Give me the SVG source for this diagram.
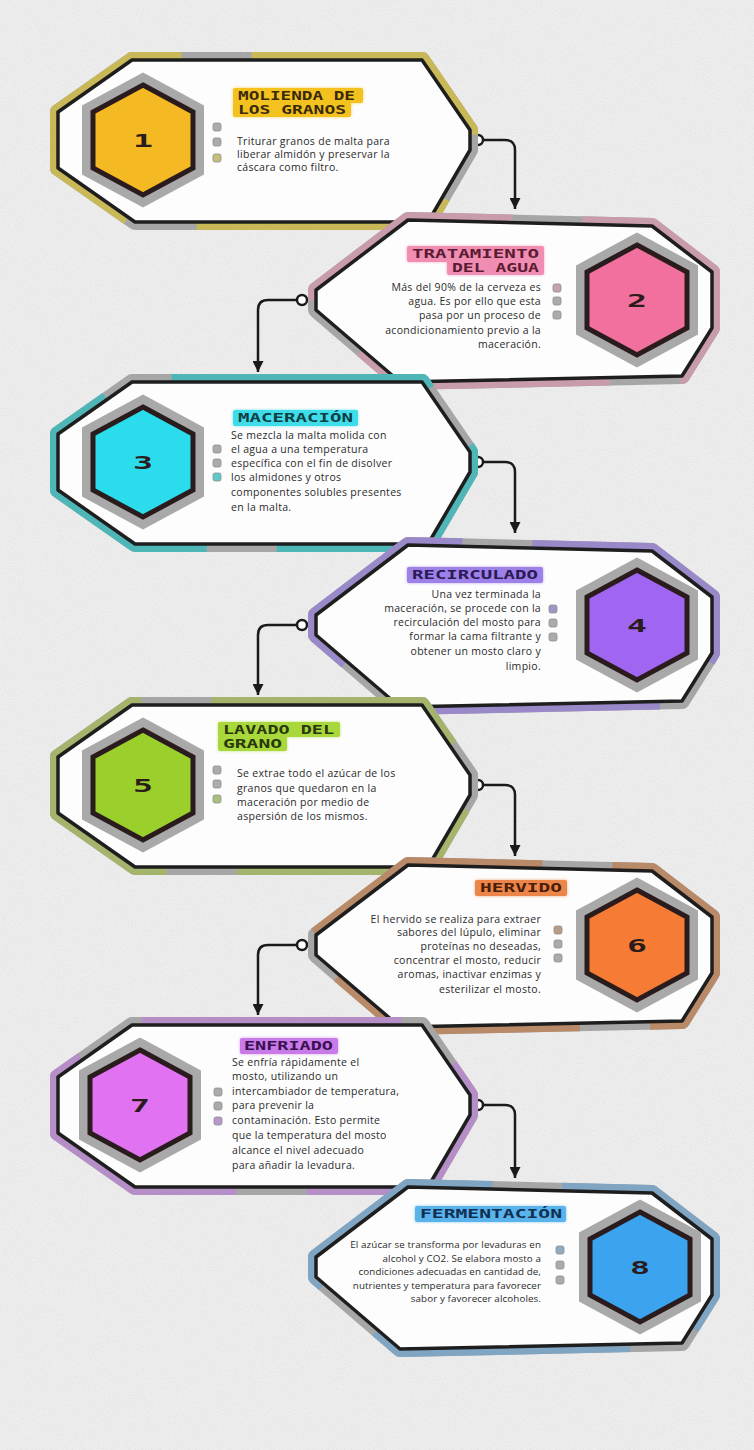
<svg xmlns="http://www.w3.org/2000/svg" xmlns:xlink="http://www.w3.org/1999/xlink" width="754" height="1450" viewBox="0 0 754 1450">
<defs>
<filter id="noise" x="0" y="0" width="100%" height="100%">
<feTurbulence type="fractalNoise" baseFrequency="0.85" numOctaves="2" seed="7"/>
<feColorMatrix type="matrix" values="0 0 0 0 0.55  0 0 0 0 0.55  0 0 0 0 0.55  0.5 0 0 0 -0.18"/>
</filter>
<filter id="glow" x="-20%" y="-50%" width="140%" height="200%">
<feGaussianBlur stdDeviation="1.6"/>
</filter>
<polygon id="hx" points="0,-55 50,-28 50,28 0,55 -50,28 -50,-28"/>
<marker id="arr" viewBox="0 0 10 10" refX="5" refY="10" markerWidth="11" markerHeight="11" markerUnits="userSpaceOnUse" orient="0">
<path d="M0,0 L10,0 L5,10 Z" fill="#1A1A1A"/>
</marker>
</defs>
<style>
.band{fill:none;stroke:#A6A6A6;stroke-width:16;stroke-linejoin:round}
.bandc{fill:none;stroke-width:16;stroke-linejoin:round;stroke-dasharray:260 70}
.cfill{fill:#FDFDFD;stroke:none}
.cline{fill:none;stroke:#1E1E1E;stroke-width:3.5;stroke-linejoin:round}
.ring{fill:#A9A9A9;stroke:#A9A9A9;stroke-width:22;stroke-linejoin:miter}
.hex{stroke:#2A1C1C;stroke-width:5;stroke-linejoin:miter}
.num{font-family:"DejaVu Sans Mono",monospace;font-weight:bold;font-size:18px;fill:#2A1C1C;text-anchor:middle}
.lbl{font-family:"DejaVu Sans Mono",monospace;font-weight:bold;font-size:11.5px}
.body{font-family:"Open Sans","Liberation Sans",sans-serif;font-size:10.5px;letter-spacing:0.3px;fill:#2B2B2B}
.sm{font-size:9.8px;letter-spacing:0.1px}
.r{text-anchor:end}
.bul{stroke:#8E8E8E;stroke-width:0.8}
.conn{fill:none;stroke:#1A1A1A;stroke-width:2.5}
.dot{fill:#FFFFFF;stroke:#1A1A1A;stroke-width:2.5}
</style>
<rect x="0" y="0" width="754" height="1450" fill="#EEEEEE"/>
<rect x="0" y="0" width="754" height="1450" filter="url(#noise)"/>

<g id="connectors">
<circle class="dot" cx="478" cy="140" r="5"/>
<path class="conn" d="M483,140 H505 Q515,140 515,150 V209" marker-end="url(#arr)"/>
<circle class="dot" cx="302" cy="300" r="5"/>
<path class="conn" d="M297,300 H268 Q258,300 258,310 V372" marker-end="url(#arr)"/>
<circle class="dot" cx="478" cy="462" r="5"/>
<path class="conn" d="M483,462 H505 Q515,462 515,472 V533" marker-end="url(#arr)"/>
<circle class="dot" cx="302" cy="625" r="5"/>
<path class="conn" d="M297,625 H268 Q258,625 258,635 V695" marker-end="url(#arr)"/>
<circle class="dot" cx="478" cy="785" r="5"/>
<path class="conn" d="M483,785 H505 Q515,785 515,795 V856" marker-end="url(#arr)"/>
<circle class="dot" cx="302" cy="945" r="5"/>
<path class="conn" d="M297,945 H268 Q258,945 258,955 V1015" marker-end="url(#arr)"/>
<circle class="dot" cx="478" cy="1105" r="5"/>
<path class="conn" d="M483,1105 H505 Q515,1105 515,1115 V1178" marker-end="url(#arr)"/>
</g>

<g id="step1">
<polygon class="band" points="58,112 132,60 422,60 470,130 470,150 428,222 135,222 58,168"/>
<polygon class="bandc" stroke="#C9B858" stroke-dashoffset="120" points="58,112 132,60 422,60 470,130 470,150 428,222 135,222 58,168"/>
<polygon class="cfill" points="58,112 132,60 422,60 470,130 470,150 428,222 135,222 58,168"/>
<polygon class="cline" points="58,112 132,60 422,60 470,130 470,150 428,222 135,222 58,168"/>
<use href="#hx" x="143" y="140" class="ring"/>
<use href="#hx" x="143" y="140" class="hex" fill="#F5B923"/>
<text class="num" x="143" y="147" textLength="20" lengthAdjust="spacingAndGlyphs">1</text>
<rect x="233" y="88" width="130" height="15" rx="2" fill="#F3C21F" filter="url(#glow)" opacity="0.7"/>
<rect x="233" y="102" width="118" height="15" rx="2" fill="#F3C21F" filter="url(#glow)" opacity="0.7"/>
<rect x="233" y="88" width="130" height="15" rx="2" fill="#F3C21F"/>
<rect x="233" y="102" width="118" height="15" rx="2" fill="#F3C21F"/>
<text class="lbl" x="238" y="100" fill="#3B2A0A" textLength="117" lengthAdjust="spacingAndGlyphs">MOLIENDA DE</text>
<text class="lbl" x="238" y="114" fill="#3B2A0A" textLength="108" lengthAdjust="spacingAndGlyphs">LOS GRANOS</text>
<rect class="bul" x="213" y="123" width="8" height="8" rx="2" fill="#ABABAB"/>
<rect class="bul" x="213" y="138" width="8" height="8" rx="2" fill="#ABABAB"/>
<rect class="bul" x="213" y="154" width="8" height="8" rx="2" fill="#C8BE7C"/>
<text class="body" x="237" y="145">Triturar granos de malta para</text>
<text class="body" x="237" y="158">liberar almidón y preservar la</text>
<text class="body" x="237" y="171">cáscara como filtro.</text>
</g>

<g id="step2">
<polygon class="band" points="316,290 408,220 652,226 712,272 712,328 682,376 400,382 316,310"/>
<polygon class="bandc" stroke="#C99CAB" stroke-dashoffset="40" points="316,290 408,220 652,226 712,272 712,328 682,376 400,382 316,310"/>
<polygon class="cfill" points="316,290 408,220 652,226 712,272 712,328 682,376 400,382 316,310"/>
<polygon class="cline" points="316,290 408,220 652,226 712,272 712,328 682,376 400,382 316,310"/>
<use href="#hx" x="637" y="300" class="ring"/>
<use href="#hx" x="637" y="300" class="hex" fill="#F2709E"/>
<text class="num" x="637" y="307" textLength="20" lengthAdjust="spacingAndGlyphs">2</text>
<rect x="407" y="246" width="137" height="16" rx="2" fill="#F18DB2" filter="url(#glow)" opacity="0.7"/>
<rect x="447" y="260" width="97" height="15" rx="2" fill="#F18DB2" filter="url(#glow)" opacity="0.7"/>
<rect x="407" y="246" width="137" height="16" rx="2" fill="#F18DB2"/>
<rect x="447" y="260" width="97" height="15" rx="2" fill="#F18DB2"/>
<text class="lbl" x="412" y="258" fill="#5A1C32" textLength="127" lengthAdjust="spacingAndGlyphs">TRATAMIENTO</text>
<text class="lbl" x="452" y="272" fill="#5A1C32" textLength="87" lengthAdjust="spacingAndGlyphs">DEL AGUA</text>
<rect class="bul" x="553" y="284" width="8" height="8" rx="2" fill="#C9A0AE"/>
<rect class="bul" x="553" y="297" width="8" height="8" rx="2" fill="#ABABAB"/>
<rect class="bul" x="553" y="311" width="8" height="8" rx="2" fill="#ABABAB"/>
<text class="body r" x="541" y="291">Más del 90% de la cerveza es</text>
<text class="body r" x="541" y="305">agua. Es por ello que esta</text>
<text class="body r" x="541" y="319">pasa por un proceso de</text>
<text class="body r" x="541" y="334">acondicionamiento previo a la</text>
<text class="body r" x="541" y="348">maceración.</text>
</g>

<g id="step3">
<polygon class="band" points="58,434 132,382 422,382 470,452 470,472 428,544 135,544 58,490"/>
<polygon class="bandc" stroke="#4FB6B8" stroke-dashoffset="200" points="58,434 132,382 422,382 470,452 470,472 428,544 135,544 58,490"/>
<polygon class="cfill" points="58,434 132,382 422,382 470,452 470,472 428,544 135,544 58,490"/>
<polygon class="cline" points="58,434 132,382 422,382 470,452 470,472 428,544 135,544 58,490"/>
<use href="#hx" x="143" y="462" class="ring"/>
<use href="#hx" x="143" y="462" class="hex" fill="#2BDDEC"/>
<text class="num" x="143" y="469" textLength="20" lengthAdjust="spacingAndGlyphs">3</text>
<rect x="233" y="410" width="125" height="16" rx="2" fill="#3FDDE9" filter="url(#glow)" opacity="0.7"/>
<rect x="233" y="410" width="125" height="16" rx="2" fill="#3FDDE9"/>
<text class="lbl" x="238" y="422" fill="#0F3E45" textLength="115" lengthAdjust="spacingAndGlyphs">MACERACIÓN</text>
<rect class="bul" x="213" y="445" width="8" height="8" rx="2" fill="#ABABAB"/>
<rect class="bul" x="213" y="459" width="8" height="8" rx="2" fill="#ABABAB"/>
<rect class="bul" x="213" y="473" width="8" height="8" rx="2" fill="#5EC9CA"/>
<text class="body" x="231" y="439">Se mezcla la malta molida con</text>
<text class="body" x="231" y="453">el agua a una temperatura</text>
<text class="body" x="231" y="467">específica con el fin de disolver</text>
<text class="body" x="231" y="481">los almidones y otros</text>
<text class="body" x="231" y="496">componentes solubles presentes</text>
<text class="body" x="231" y="511">en la malta.</text>
</g>

<g id="step4">
<polygon class="band" points="316,615 408,545 652,551 712,597 712,653 682,701 400,707 316,635"/>
<polygon class="bandc" stroke="#9A89C8" stroke-dashoffset="90" points="316,615 408,545 652,551 712,597 712,653 682,701 400,707 316,635"/>
<polygon class="cfill" points="316,615 408,545 652,551 712,597 712,653 682,701 400,707 316,635"/>
<polygon class="cline" points="316,615 408,545 652,551 712,597 712,653 682,701 400,707 316,635"/>
<use href="#hx" x="637" y="625" class="ring"/>
<use href="#hx" x="637" y="625" class="hex" fill="#A066F2"/>
<text class="num" x="637" y="632" textLength="20" lengthAdjust="spacingAndGlyphs">4</text>
<rect x="407" y="567" width="136" height="16" rx="2" fill="#9D80E8" filter="url(#glow)" opacity="0.7"/>
<rect x="407" y="567" width="136" height="16" rx="2" fill="#9D80E8"/>
<text class="lbl" x="412" y="579" fill="#2A1A55" textLength="126" lengthAdjust="spacingAndGlyphs">RECIRCULADO</text>
<rect class="bul" x="549" y="605" width="8" height="8" rx="2" fill="#A096C6"/>
<rect class="bul" x="549" y="619" width="8" height="8" rx="2" fill="#ABABAB"/>
<rect class="bul" x="549" y="633" width="8" height="8" rx="2" fill="#ABABAB"/>
<text class="body r" x="541" y="598">Una vez terminada la</text>
<text class="body r" x="541" y="612">maceración, se procede con la</text>
<text class="body r" x="541" y="626">recirculación del mosto para</text>
<text class="body r" x="541" y="640">formar la cama filtrante y</text>
<text class="body r" x="541" y="655">obtener un mosto claro y</text>
<text class="body r" x="541" y="670">limpio.</text>
</g>

<g id="step5">
<polygon class="band" points="58,757 132,705 422,705 470,775 470,795 428,867 135,867 58,813"/>
<polygon class="bandc" stroke="#A5B46D" stroke-dashoffset="160" points="58,757 132,705 422,705 470,775 470,795 428,867 135,867 58,813"/>
<polygon class="cfill" points="58,757 132,705 422,705 470,775 470,795 428,867 135,867 58,813"/>
<polygon class="cline" points="58,757 132,705 422,705 470,775 470,795 428,867 135,867 58,813"/>
<use href="#hx" x="143" y="785" class="ring"/>
<use href="#hx" x="143" y="785" class="hex" fill="#9BCF2B"/>
<text class="num" x="143" y="792" textLength="20" lengthAdjust="spacingAndGlyphs">5</text>
<rect x="218" y="722" width="122" height="15" rx="2" fill="#A8D83C" filter="url(#glow)" opacity="0.7"/>
<rect x="218" y="736" width="69" height="15" rx="2" fill="#A8D83C" filter="url(#glow)" opacity="0.7"/>
<rect x="218" y="722" width="122" height="15" rx="2" fill="#A8D83C"/>
<rect x="218" y="736" width="69" height="15" rx="2" fill="#A8D83C"/>
<text class="lbl" x="223" y="734" fill="#28380A" textLength="111" lengthAdjust="spacingAndGlyphs">LAVADO DEL</text>
<text class="lbl" x="223" y="748" fill="#28380A" textLength="59" lengthAdjust="spacingAndGlyphs">GRANO</text>
<rect class="bul" x="213" y="766" width="8" height="8" rx="2" fill="#ABABAB"/>
<rect class="bul" x="213" y="780" width="8" height="8" rx="2" fill="#ABABAB"/>
<rect class="bul" x="213" y="795" width="8" height="8" rx="2" fill="#AABF7C"/>
<text class="body" x="237" y="777">Se extrae todo el azúcar de los</text>
<text class="body" x="237" y="792">granos que quedaron en la</text>
<text class="body" x="237" y="806">maceración por medio de</text>
<text class="body" x="237" y="820">aspersión de los mismos.</text>
</g>

<g id="step6">
<polygon class="band" points="316,935 408,865 652,871 712,917 712,973 682,1021 400,1027 316,955"/>
<polygon class="bandc" stroke="#B98A68" stroke-dashoffset="10" points="316,935 408,865 652,871 712,917 712,973 682,1021 400,1027 316,955"/>
<polygon class="cfill" points="316,935 408,865 652,871 712,917 712,973 682,1021 400,1027 316,955"/>
<polygon class="cline" points="316,935 408,865 652,871 712,917 712,973 682,1021 400,1027 316,955"/>
<use href="#hx" x="637" y="945" class="ring"/>
<use href="#hx" x="637" y="945" class="hex" fill="#F67B34"/>
<text class="num" x="637" y="952" textLength="20" lengthAdjust="spacingAndGlyphs">6</text>
<rect x="475" y="880" width="92" height="16" rx="2" fill="#EC8549" filter="url(#glow)" opacity="0.7"/>
<rect x="475" y="880" width="92" height="16" rx="2" fill="#EC8549"/>
<text class="lbl" x="480" y="892" fill="#4A1E08" textLength="82" lengthAdjust="spacingAndGlyphs">HERVIDO</text>
<rect class="bul" x="554" y="926" width="8" height="8" rx="2" fill="#B99C88"/>
<rect class="bul" x="554" y="940" width="8" height="8" rx="2" fill="#ABABAB"/>
<rect class="bul" x="554" y="954" width="8" height="8" rx="2" fill="#ABABAB"/>
<text class="body r" x="541" y="923">El hervido se realiza para extraer</text>
<text class="body r" x="541" y="936">sabores del lúpulo, eliminar</text>
<text class="body r" x="541" y="950">proteínas no deseadas,</text>
<text class="body r" x="541" y="964">concentrar el mosto, reducir</text>
<text class="body r" x="541" y="978">aromas, inactivar enzimas y</text>
<text class="body r" x="541" y="993">esterilizar el mosto.</text>
</g>

<g id="step7">
<polygon class="band" points="58,1077 132,1025 422,1025 470,1095 470,1115 428,1187 135,1187 58,1133"/>
<polygon class="bandc" stroke="#B68EC7" stroke-dashoffset="230" points="58,1077 132,1025 422,1025 470,1095 470,1115 428,1187 135,1187 58,1133"/>
<polygon class="cfill" points="58,1077 132,1025 422,1025 470,1095 470,1115 428,1187 135,1187 58,1133"/>
<polygon class="cline" points="58,1077 132,1025 422,1025 470,1095 470,1115 428,1187 135,1187 58,1133"/>
<use href="#hx" x="140" y="1105" class="ring"/>
<use href="#hx" x="140" y="1105" class="hex" fill="#E173F2"/>
<text class="num" x="140" y="1112" textLength="20" lengthAdjust="spacingAndGlyphs">7</text>
<rect x="240" y="1038" width="98" height="16" rx="2" fill="#C87AE9" filter="url(#glow)" opacity="0.7"/>
<rect x="240" y="1038" width="98" height="16" rx="2" fill="#C87AE9"/>
<text class="lbl" x="244" y="1050" fill="#3A1050" textLength="89" lengthAdjust="spacingAndGlyphs">ENFRIADO</text>
<rect class="bul" x="214" y="1088" width="8" height="8" rx="2" fill="#ABABAB"/>
<rect class="bul" x="214" y="1102" width="8" height="8" rx="2" fill="#ABABAB"/>
<rect class="bul" x="214" y="1117" width="8" height="8" rx="2" fill="#B897CD"/>
<text class="body" x="232" y="1066">Se enfría rápidamente el</text>
<text class="body" x="232" y="1080">mosto, utilizando un</text>
<text class="body" x="232" y="1095">intercambiador de temperatura,</text>
<text class="body" x="232" y="1109">para prevenir la</text>
<text class="body" x="232" y="1124">contaminación. Esto permite</text>
<text class="body" x="232" y="1139">que la temperatura del mosto</text>
<text class="body" x="232" y="1154">alcance el nivel adecuado</text>
<text class="body" x="232" y="1169">para añadir la levadura.</text>
</g>

<g id="step8">
<polygon class="band" points="316,1257 408,1187 652,1193 712,1239 712,1295 682,1343 400,1349 316,1277"/>
<polygon class="bandc" stroke="#7FA5C3" stroke-dashoffset="60" points="316,1257 408,1187 652,1193 712,1239 712,1295 682,1343 400,1349 316,1277"/>
<polygon class="cfill" points="316,1257 408,1187 652,1193 712,1239 712,1295 682,1343 400,1349 316,1277"/>
<polygon class="cline" points="316,1257 408,1187 652,1193 712,1239 712,1295 682,1343 400,1349 316,1277"/>
<use href="#hx" x="640" y="1267" class="ring"/>
<use href="#hx" x="640" y="1267" class="hex" fill="#3CA3EF"/>
<text class="num" x="640" y="1274" textLength="20" lengthAdjust="spacingAndGlyphs">8</text>
<rect x="415" y="1206" width="151" height="16" rx="2" fill="#5BB3EC" filter="url(#glow)" opacity="0.7"/>
<rect x="415" y="1206" width="151" height="16" rx="2" fill="#5BB3EC"/>
<text class="lbl" x="420" y="1218" fill="#0F3052" textLength="142" lengthAdjust="spacingAndGlyphs">FERMENTACIÓN</text>
<rect class="bul" x="556" y="1246" width="8" height="8" rx="2" fill="#90AABF"/>
<rect class="bul" x="556" y="1261" width="8" height="8" rx="2" fill="#ABABAB"/>
<rect class="bul" x="556" y="1276" width="8" height="8" rx="2" fill="#ABABAB"/>
<text class="body sm r" x="541" y="1248">El azúcar se transforma por levaduras en</text>
<text class="body sm r" x="541" y="1262">alcohol y CO2. Se elabora mosto a</text>
<text class="body sm r" x="541" y="1275">condiciones adecuadas en cantidad de,</text>
<text class="body sm r" x="541" y="1289">nutrientes y temperatura para favorecer</text>
<text class="body sm r" x="541" y="1302">sabor y favorecer alcoholes.</text>
</g>
</svg>
